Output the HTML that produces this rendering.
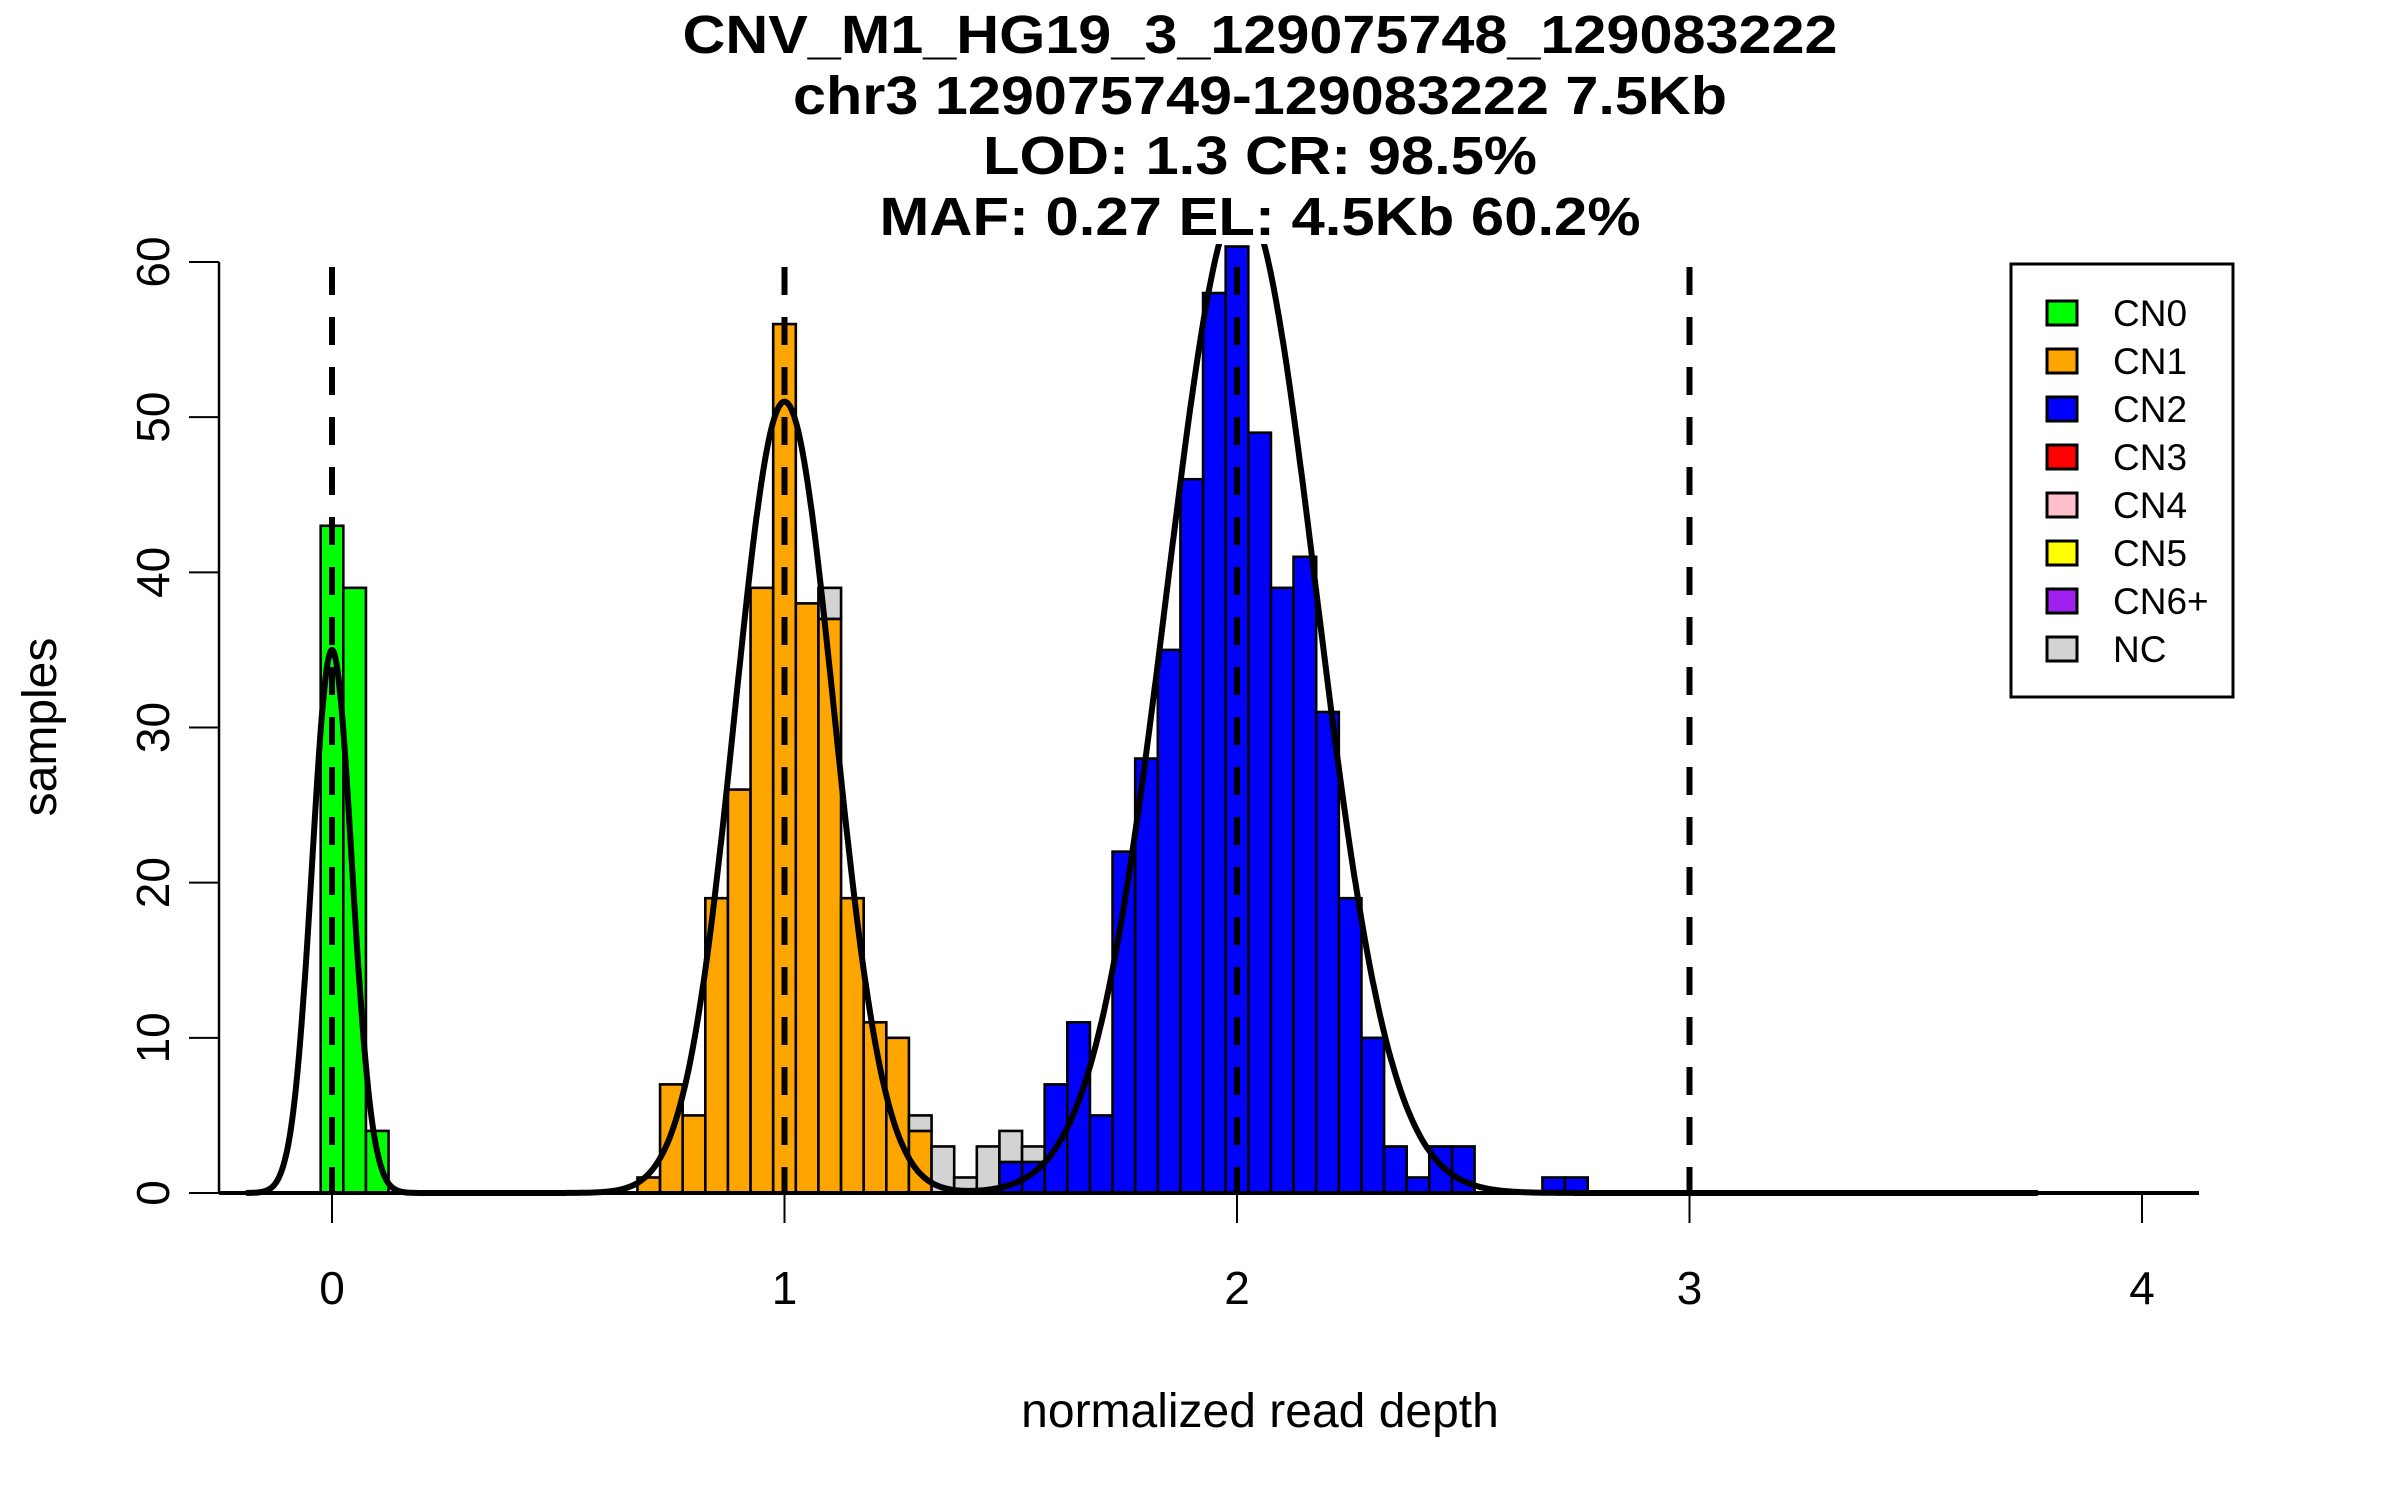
<!DOCTYPE html>
<html><head><meta charset="utf-8"><style>
html,body{margin:0;padding:0;background:#fff;}
svg{display:block;font-family:"Liberation Sans",Arial,sans-serif;}
</style></head><body>
<svg id="chart" width="2400" height="1500" viewBox="0 0 2400 1500">
<defs><clipPath id="plotclip"><rect x="219" y="244" width="1980" height="960"/></clipPath></defs>
<g font-weight="bold" font-size="54" text-anchor="middle">
<text x="1260" y="53" textLength="1155" lengthAdjust="spacingAndGlyphs">CNV_M1_HG19_3_129075748_129083222</text>
<text x="1260" y="114" textLength="934" lengthAdjust="spacingAndGlyphs">chr3 129075749-129083222 7.5Kb</text>
<text x="1260" y="174" textLength="554" lengthAdjust="spacingAndGlyphs">LOD: 1.3 CR: 98.5%</text>
<text x="1260" y="235" textLength="761" lengthAdjust="spacingAndGlyphs">MAF: 0.27 EL: 4.5Kb 60.2%</text>
</g>
<g id="bars" clip-path="url(#plotclip)"></g>
<g id="vlines"></g>
<g id="curve" clip-path="url(#plotclip)"></g>
<g id="axes"></g>
<text x="1260" y="1427" font-size="48" text-anchor="middle">normalized read depth</text>
<text transform="translate(56,727) rotate(-90)" font-size="48" text-anchor="middle">samples</text>
<g>
<rect x="2011" y="264" width="222" height="433" fill="#fff" stroke="#000" stroke-width="3"/>
<g id="legend"></g>
</g>
</svg>
<script>
// bin centers (normalized read depth), bin width 0.05
const binCenters = [0.00,0.05,0.10,0.70,0.75,0.80,0.85,0.90,0.95,1.00,1.05,1.10,1.15,1.20,1.25,1.30,1.35,1.40,1.45,1.50,1.55,1.60,1.65,1.70,1.75,1.80,1.85,1.90,1.95,2.00,2.05,2.10,2.15,2.20,2.25,2.30,2.35,2.40,2.45,2.50,2.70,2.75];
const cn0Counts  = [43,39,4, 0,0,0,0,0,0,0,0,0,0,0,0,0, 0,0,0,0,0, 0,0,0,0,0,0,0,0,0,0,0,0,0,0,0,0,0,0,0,0,0];
const cn1Counts  = [0,0,0, 1,7,5,19,26,39,56,38,37,19,11,10,4, 0,0,0,0,0, 0,0,0,0,0,0,0,0,0,0,0,0,0,0,0,0,0,0,0,0,0];
const cn2Counts  = [0,0,0, 0,0,0,0,0,0,0,0,0,0,0,0,0, 0,0,0,2,2, 7,11,5,22,28,35,46,58,61,49,39,41,31,19,10,3,1,3,3,1,1];
const ncCounts   = [0,0,0, 0,0,0,0,0,0,0,0,2,0,0,0,1, 3,1,3,2,1, 0,0,0,0,0,0,0,0,0,0,0,0,0,0,0,0,0,0,0,0,0];
const binWidth = 0.05;
// mixture fit components
const fitMeans = [0, 1.0, 2.01];
const fitSds = [0.044, 0.11, 0.165];
const fitPeaks = [35, 51, 64];
const fitRange = [-0.19, 3.77];
const guideLines = [0, 1, 2, 3];
const xTicks = [0, 1, 2, 3, 4];
const yTicks = [0, 10, 20, 30, 40, 50, 60];
const legendLabels = ["CN0","CN1","CN2","CN3","CN4","CN5","CN6+","NC"];
const legendColors = ["#00ff00","#ffa500","#0000ff","#ff0000","#ffc0cb","#ffff00","#a020f0","#d3d3d3"];

const NS = "http://www.w3.org/2000/svg";
const X0 = 332, XU = 452.5, Y0 = 1193, YU = (1193-262)/60;
const xs = v => X0 + v*XU;
const ys = v => Y0 - v*YU;
function mk(tag, attrs, parent){const e=document.createElementNS(NS,tag);for(const k in attrs)e.setAttribute(k,attrs[k]);parent.appendChild(e);return e;}

const bars = document.getElementById('bars');
binCenters.forEach((c,i)=>{
  const layers = [[cn0Counts[i],"#00ff00"],[cn1Counts[i],"#ffa500"],[cn2Counts[i],"#0000ff"],[ncCounts[i],"#d3d3d3"]];
  let base = 0;
  layers.forEach(([n,col])=>{
    if(n<=0) return;
    const r = mk('rect',{x:xs(c-binWidth/2),y:ys(base+n),width:binWidth*XU,height:n*YU,fill:col,stroke:'#000','stroke-width':2.6},bars);
    
    
    base += n;
  });
});

const vl = document.getElementById('vlines');
guideLines.forEach(g=>{
  const l = mk('line',{x1:xs(g),x2:xs(g),y1:267,y2:Y0,stroke:'#000','stroke-width':6,'stroke-dasharray':'28 22'},vl);
  
  
});

let d = "";
for(let x=fitRange[0]; x<=fitRange[1]; x+=0.002){
  let y=0;
  for(let k=0;k<fitMeans.length;k++){y+=fitPeaks[k]*Math.exp(-Math.pow(x-fitMeans[k],2)/(2*fitSds[k]*fitSds[k]));}
  d += (d?"L":"M")+xs(x).toFixed(1)+","+ys(y).toFixed(1);
}
const cp = mk('path',{d:d,fill:'none',stroke:'#000','stroke-width':6,'stroke-linejoin':'round'},document.getElementById('curve'));



const ax = document.getElementById('axes');
const xa = mk('line',{x1:219,x2:2199,y1:Y0,y2:Y0,stroke:'#000','stroke-width':4},ax);


xTicks.forEach(t=>{
  const tk = mk('line',{x1:xs(t),x2:xs(t),y1:Y0,y2:Y0+30,stroke:'#000','stroke-width':2},ax);
  
  
  const tl = mk('text',{x:xs(t),y:1304,'font-size':46,'text-anchor':'middle'},ax);
  tl.textContent = t;
  
  
});
const ya = mk('line',{x1:219,x2:219,y1:ys(60),y2:Y0,stroke:'#000','stroke-width':2.5},ax);


yTicks.forEach(t=>{
  const tk = mk('line',{x1:189,x2:219,y1:ys(t),y2:ys(t),stroke:'#000','stroke-width':2},ax);
  
  
  const tl = mk('text',{transform:`translate(169,${ys(t)}) rotate(-90)`,'font-size':46,'text-anchor':'middle'},ax);
  tl.textContent = t;
  
  
});

const lg = document.getElementById('legend');
legendLabels.forEach((lab,i)=>{
  const cy = 313 + i*48;
  const sw = mk('rect',{x:2047,y:cy-12,width:30,height:24,fill:legendColors[i],stroke:'#000','stroke-width':3},lg);
  
  
  const tx = mk('text',{x:2113,y:cy+13,'font-size':37},lg);
  tx.textContent = lab;
  
  
});
</script>
</body></html>
